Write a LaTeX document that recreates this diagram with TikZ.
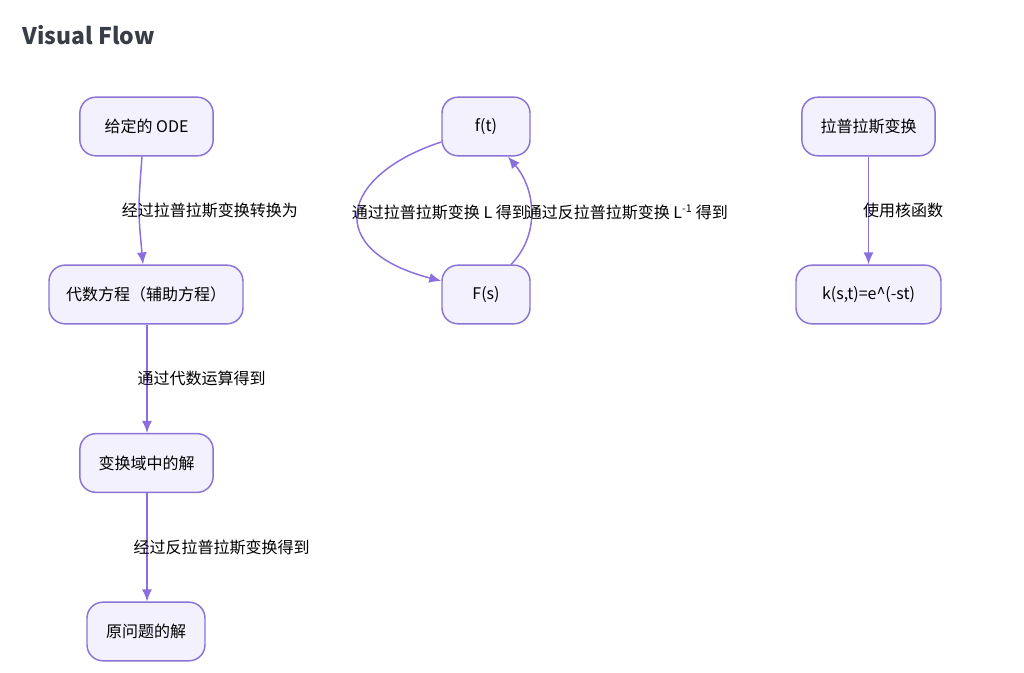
\documentclass[tikz,border=0pt]{standalone}
\usepackage{fontspec}
\setmainfont{Noto Sans CJK SC}
\usepackage{tikz}
\usetikzlibrary{arrows.meta}

\definecolor{boxfill}{HTML}{F4F1FE}
\definecolor{boxline}{HTML}{8B74D6}
\definecolor{flowline}{HTML}{8B6FE0}
\definecolor{titlegray}{HTML}{383D48}

\tikzset{
    stepbox/.style={draw=boxline, fill=boxfill, line width=1.1pt, rounded corners=12pt,
        minimum height=44pt, inner sep=0pt, font=\fontsize{12}{14}\selectfont},
    flow/.style={draw=flowline, line width=1.1pt, -{Latex[length=9pt,width=7.5pt]}},
    elabel/.style={font=\fontsize{12}{14}\selectfont, inner sep=0pt}
}

\begin{document}
\begin{tikzpicture}[x=0.75pt, y=-0.75pt]
    \useasboundingbox (0,0) rectangle (1024,673);
    \node[anchor=west, text=titlegray, font=\fontsize{17.2}{20}\selectfont\bfseries] (title) at (18,35) {Visual Flow};
    % Left column
    \node[stepbox, minimum width=100pt] (ode) at (146.5,126.5) {给定的 ODE};
    \node[stepbox, minimum width=145.5pt] (alg) at (146,294.5) {代数方程（辅助方程）};
    \node[stepbox, minimum width=100pt] (sol) at (146.5,463) {变换域中的解};
    \node[stepbox, minimum width=88.5pt] (orig) at (146,631.5) {原问题的解};
    % Middle pair
    \node[stepbox, minimum width=66pt] (ft) at (486,126.5) {f(t)};
    \node[stepbox, minimum width=66pt] (Fs) at (486,294.5) {F(s)};
    % Right pair
    \node[stepbox, minimum width=100pt] (lap) at (868.5,126.5) {拉普拉斯变换};
    \node[stepbox, minimum width=108.75pt] (kern) at (868.5,294.5) {k(s,t)=e\^{}(-st)};
    % Connectors
    \draw[flow] (ode.south -| 142,0) .. controls (138,210) .. (alg.north -| 143,0)
        node[elabel, pos=0.5, xshift=53pt] {经过拉普拉斯变换转换为};
    \draw[flow] (alg.south -| 147,0) -- (sol.north -| 147,0)
        node[elabel, pos=0.5, xshift=41pt] {通过代数运算得到};
    \draw[flow] (sol.south -| 147,0) -- (orig.north -| 147,0)
        node[elabel, pos=0.5, xshift=56pt] {经过反拉普拉斯变换得到};
    \draw[flow] (lap) -- (kern)
        node[elabel, pos=0.5, xshift=26pt] {使用核函数};
    \draw[flow] (ft.west |- 0,142) .. controls (340,175) and (322,250) .. (Fs.west |- 0,281)
        node[elabel, pos=0.5, xshift=61pt] {通过拉普拉斯变换 L 得到};
    \draw[flow] (Fs.north -| 511,0) .. controls (540,235) and (536,190) .. (ft.south -| 508,0)
        node[elabel, pos=0.5, xshift=72pt] {通过反拉普拉斯变换 L\textsuperscript{-1} 得到};
\end{tikzpicture}
\end{document}
